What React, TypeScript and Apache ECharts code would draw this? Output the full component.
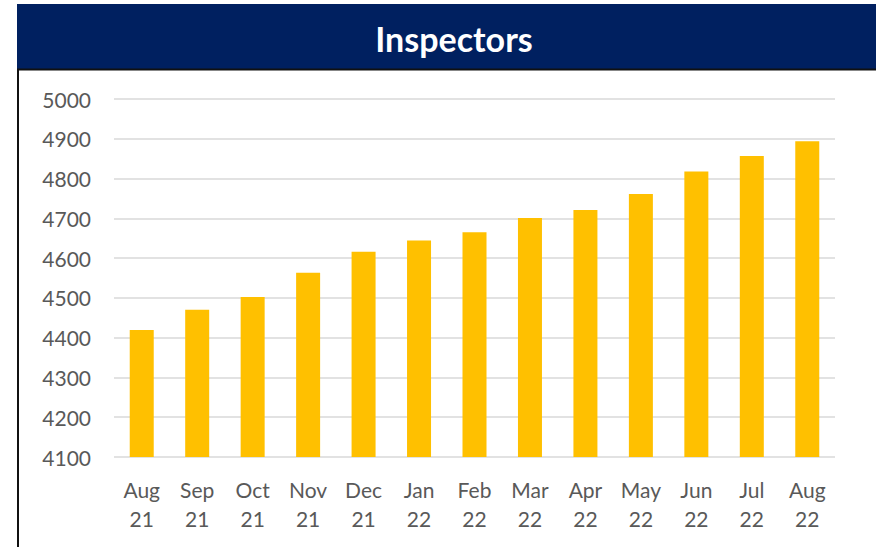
import React, { useEffect, useRef } from "react";
import * as echarts from "echarts";

const categories = ["Aug\n21", "Sep\n21", "Oct\n21", "Nov\n21", "Dec\n21", "Jan\n22", "Feb\n22", "Mar\n22", "Apr\n22", "May\n22", "Jun\n22", "Jul\n22", "Aug\n22"];
const inspectors = [4419, 4470, 4502, 4563, 4616, 4644, 4665, 4701, 4721, 4761, 4818, 4857, 4894];
const titleText = "Inspectors";
const yMin = 4100;
const yMax = 5000;
const yInterval = 100;

export default function App() {
  const ref = useRef<HTMLDivElement>(null);
  useEffect(() => {
    if (!ref.current) return;
    const chart = echarts.init(ref.current, null, { renderer: "svg" });
    chart.setOption({
      animation: false,
      backgroundColor: "#ffffff",
      graphic: [
        { type: "rect", shape: { x: 17, y: 4, width: 870, height: 65 }, style: { fill: "#002060" }, z: 0 },
        { type: "line", shape: { x1: 17, y1: 69.5, x2: 876, y2: 69.5 }, style: { stroke: "#111111", lineWidth: 2 } },
        { type: "line", shape: { x1: 18, y1: 69, x2: 18, y2: 547 }, style: { stroke: "#111111", lineWidth: 2 } },
        {
          type: "text",
          x: 454,
          y: 38,
          style: {
            text: titleText,
            fill: "#ffffff",
            font: "bold 34px Lato",
            textAlign: "center",
            textVerticalAlign: "middle",
          },
          z: 10,
        },
      ],
      grid: { left: 114, right: 41, top: 99, bottom: 90 },
      xAxis: {
        type: "category",
        data: categories,
        axisTick: { show: false },
        axisLine: { show: false },
        axisLabel: {
          color: "#595959",
          fontFamily: "Lato",
          fontSize: 21,
          lineHeight: 29,
          margin: 18,
          interval: 0,
        },
      },
      yAxis: {
        type: "value",
        min: yMin,
        max: yMax,
        interval: yInterval,
        axisLine: { show: false },
        axisTick: { show: false },
        splitLine: { lineStyle: { color: "#d9d9d9", width: 1.5 } },
        axisLabel: {
          color: "#595959",
          fontFamily: "Lato",
          fontSize: 21,
          margin: 23,
          formatter: (v: number) => String(v),
        },
      },
      series: [
        {
          type: "bar",
          data: inspectors,
          barWidth: 24,
          itemStyle: { color: "#FFC000" },
        },
      ],
    });
    return () => chart.dispose();
  }, []);
  return <div ref={ref} style={{ width: 876, height: 547, position: "fixed", left: 0, top: 0 }} />;
}
